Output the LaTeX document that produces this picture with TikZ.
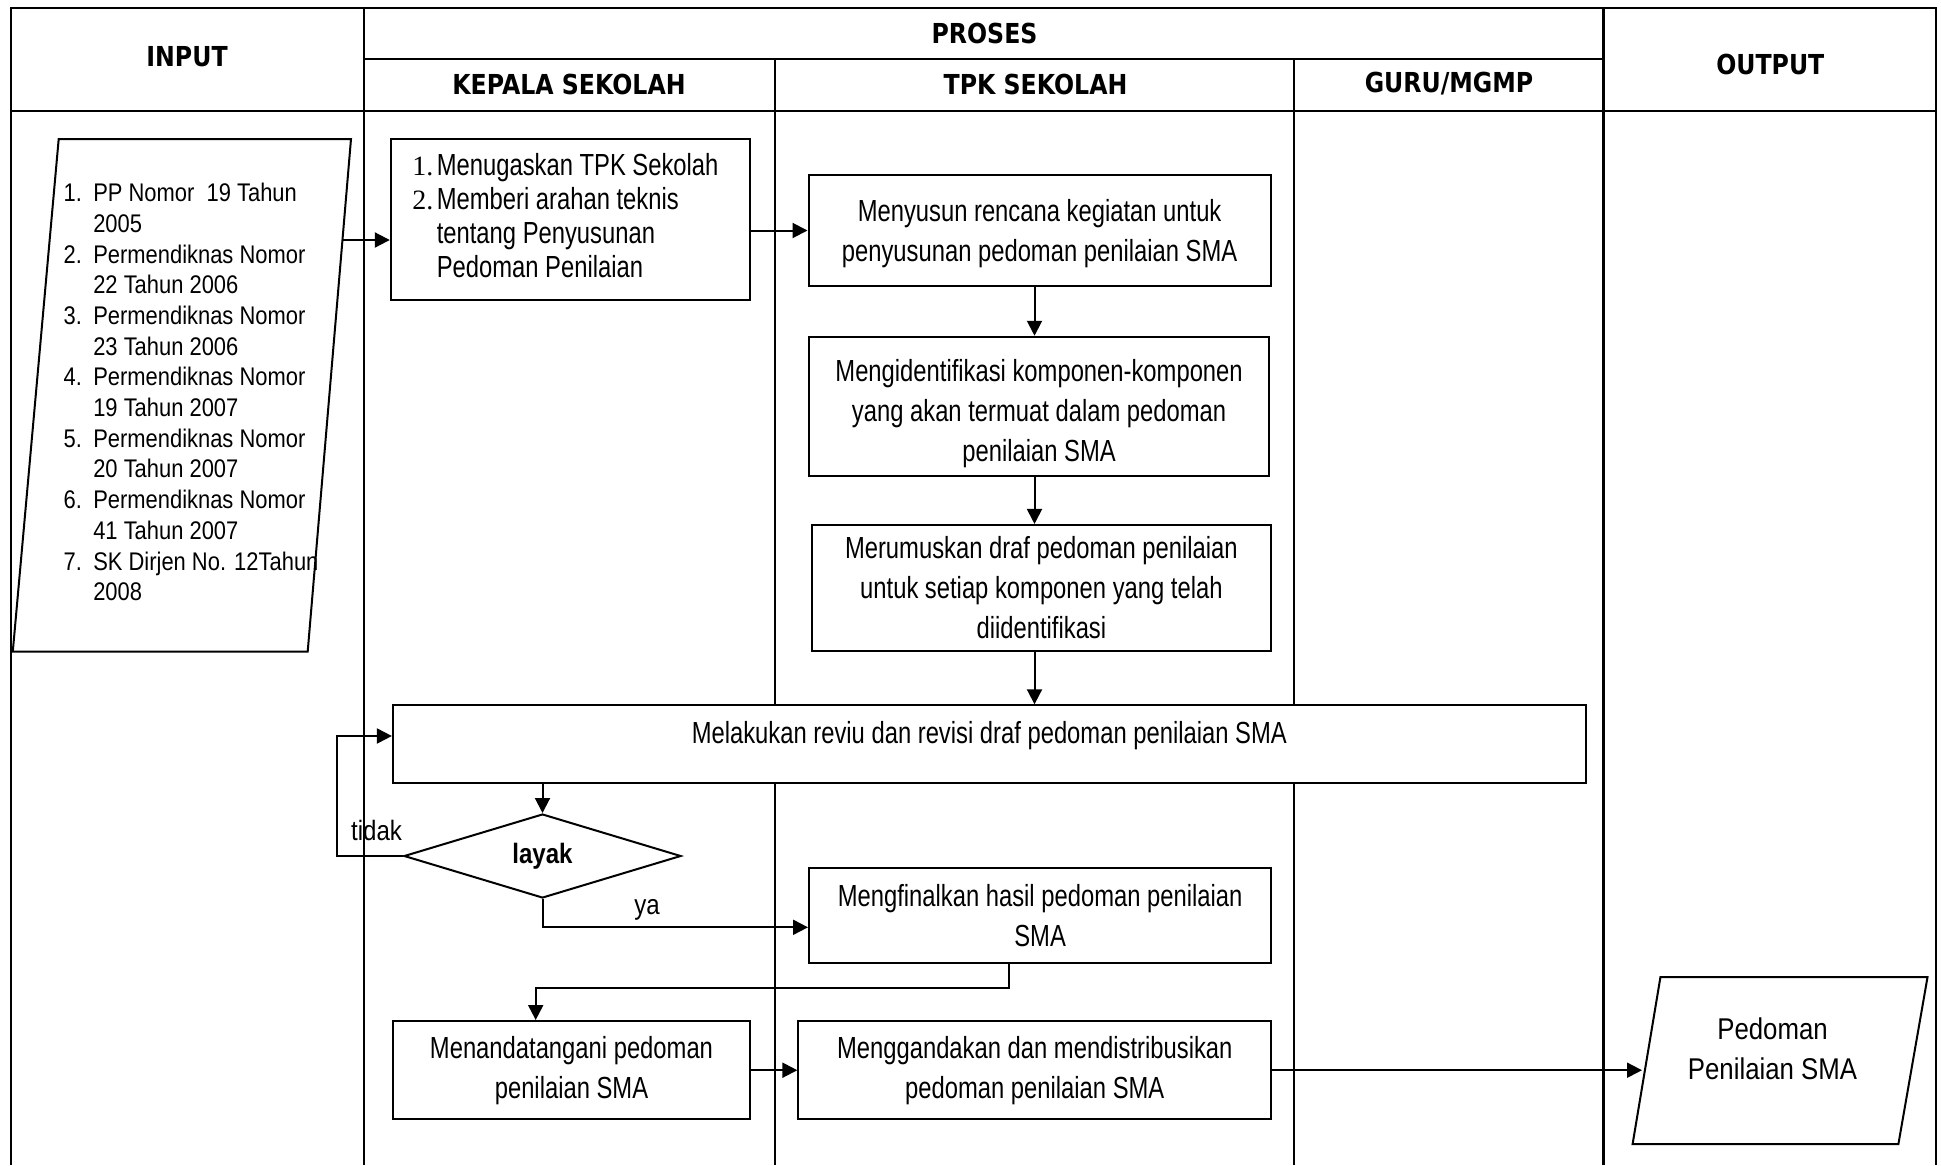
\documentclass[tikz,border=0pt]{standalone}
\usepackage{fontspec}
\setmainfont[FakeStretch=0.86]{Liberation Sans}
\newfontfamily\boxfont[FakeStretch=0.78]{Liberation Sans}
\newfontfamily\hdrfont[FakeStretch=0.86]{DejaVu Sans}
\newfontfamily\numfont{Liberation Serif}
\usetikzlibrary{arrows.meta,shapes.geometric}
\begin{document}
\begin{tikzpicture}[x=1pt,y=-1pt,
  frame/.style={line width=2.3pt},
  box/.style={draw,line width=2pt,fill=white,inner sep=0pt,align=center,font=\boxfont\fontsize{30.5}{40}\selectfont},
  hdr/.style={font=\hdrfont\bfseries\fontsize{27.5}{34}\selectfont,inner sep=0pt},
  arr/.style={-{Triangle[length=15pt,width=15pt]},line width=2pt},
  io/.style={line width=2pt,line join=miter},
  lbl/.style={font=\fontsize{28}{34}\selectfont,inner sep=0pt}]
\useasboundingbox (0,0) rectangle (1941,1165);
% frame
\draw[frame] (11,1165) -- (11,8) -- (1936,8) -- (1936,1165);
\draw[frame] (11,111) -- (1936,111);
\draw[frame] (364,59) -- (1603.5,59);
\draw[frame] (364,8) -- (364,1165);
\draw[frame] (1603.5,8) -- (1603.5,1165);
\draw[frame] (775,59) -- (775,1165);
\draw[frame] (1294,59) -- (1294,1165);
% headers
\node[hdr] (hin) at (187,57) {INPUT};
\node[hdr] (hpr) at (984.5,33) {PROSES};
\node[hdr] (hks) at (569,84) {KEPALA SEKOLAH};
\node[hdr] (htpk) at (1035.5,84) {TPK SEKOLAH};
\node[hdr] (hguru) at (1449,84) {GURU/MGMP};
\node[hdr] (hout) at (1770.3,64) {OUTPUT};
% input
\draw[io] (58.7,139) -- (351,139) -- (307.7,651.5) -- (12.8,651.5) -- cycle;
\node[anchor=north west,inner sep=0pt,font=\fontsize{25.5}{30.7}\selectfont] (inp) at (63.5,180) {%
\begin{tabular}{@{}p{29.6pt}@{}l@{}}
1. & PP Nomor\ \ 19 Tahun\\
 & 2005\\
2. & Permendiknas Nomor\\
 & 22 Tahun 2006\\
3. & Permendiknas Nomor\\
 & 23 Tahun 2006\\
4. & Permendiknas Nomor\\
 & 19 Tahun 2007\\
5. & Permendiknas Nomor\\
 & 20 Tahun 2007\\
6. & Permendiknas Nomor\\
 & 41 Tahun 2007\\
7. & SK Dirjen No. 12Tahun\\
 & 2008
\end{tabular}};
\coordinate (inR) at (342.5,240);
% process boxes
\node[box,minimum width=359.2pt,minimum height=161.1pt] (ks1) at (570.4,219.5) {\fontsize{30.5}{34}\selectfont\begin{tabular}{@{}p{24.5pt}@{}l@{}}{\numfont\fontsize{28}{34}\selectfont 1.} & Menugaskan TPK Sekolah\\ {\numfont\fontsize{28}{34}\selectfont 2.} & Memberi arahan teknis\\ & tentang Penyusunan\\ & Pedoman Penilaian\end{tabular}\hspace*{10pt}};
\node[box,minimum width=462.2pt,minimum height=111.5pt] (tpk1) at (1039.6,230.5) {\raisebox{-3pt}[\height][\depth]{\begin{tabular}{@{}c@{}}Menyusun rencana kegiatan untuk\\penyusunan pedoman penilaian SMA\end{tabular}}};
\node[box,minimum width=460.2pt,minimum height=138.9pt] (tpk2) at (1039.1,406.2) {\raisebox{-7pt}[\height][\depth]{\begin{tabular}{@{}c@{}}Mengidentifikasi komponen-komponen\\yang akan termuat dalam pedoman\\penilaian SMA\end{tabular}}};
\node[box,minimum width=459.7pt,minimum height=126.1pt] (tpk3) at (1041.4,588) {\raisebox{-2pt}[\height][\depth]{\begin{tabular}{@{}c@{}}Merumuskan draf pedoman penilaian\\untuk setiap komponen yang telah\\diidentifikasi\end{tabular}}};
\node[box,minimum width=1192.8pt,minimum height=78pt] (rev) at (989.3,744.3) {\raisebox{8.5pt}[\height][\depth]{Melakukan reviu dan revisi draf pedoman penilaian SMA}};
\node[draw,diamond,line width=2pt,fill=white,aspect=3.3,minimum width=277pt,minimum height=84pt,inner sep=0pt,font=\bfseries\fontsize{28}{34}\selectfont] (dec) at (542.5,856) {layak};
\node[box,minimum width=462.2pt,minimum height=95.7pt] (fin) at (1040.1,915.6) {Mengfinalkan hasil pedoman penilaian\\SMA};
\node[box,minimum width=357.1pt,minimum height=98.4pt] (sign) at (571.5,1070.2) {Menandatangani pedoman\\penilaian SMA};
\node[box,minimum width=472.9pt,minimum height=98.4pt] (gand) at (1034.8,1070.2) {Menggandakan dan mendistribusikan\\pedoman penilaian SMA};
% output
\draw[io] (1660.4,977.2) -- (1927.5,977.2) -- (1898.4,1144) -- (1632.6,1144) -- cycle;
\node[align=center,inner sep=0pt,font=\fontsize{30}{39.6}\selectfont] (out) at (1772.5,1048.6) {Pedoman\\Penilaian SMA};
\coordinate (outL) at (1642,1070.2);
% labels
\node[lbl] (tidak) at (376.5,830.8) {tidak};
\node[lbl] (ya) at (647,909.5) {ya};
% connectors
\draw[arr] (inR) -- (inR -| ks1.west);
\draw[arr] (ks1.east |- tpk1.west) -- (tpk1.west);
\coordinate (ax) at (1034.5,0);
\draw[arr] (ax |- tpk1.south) -- (ax |- tpk2.north);
\draw[arr] (ax |- tpk2.south) -- (ax |- tpk3.north);
\draw[arr] (ax |- tpk3.south) -- (ax |- rev.north);
\draw[arr] (dec.north |- rev.south) -- (dec.north);
\coordinate (fb) at (336.7,736);
\draw[arr] (dec.west) -| (fb) -- (fb -| rev.west);
\draw[arr] (dec.south) |- ([yshift=-11.7pt]fin.west);
\coordinate (fx) at (1009,987.5);
\coordinate (sx) at (535.7,987.5);
\draw[arr] (fx |- fin.south) -- (fx) -- (sx) -- (sx |- sign.north);
\draw[arr] (sign.east) -- (gand.west);
\draw[arr] (gand.east) -- (outL);
\end{tikzpicture}
\end{document}
